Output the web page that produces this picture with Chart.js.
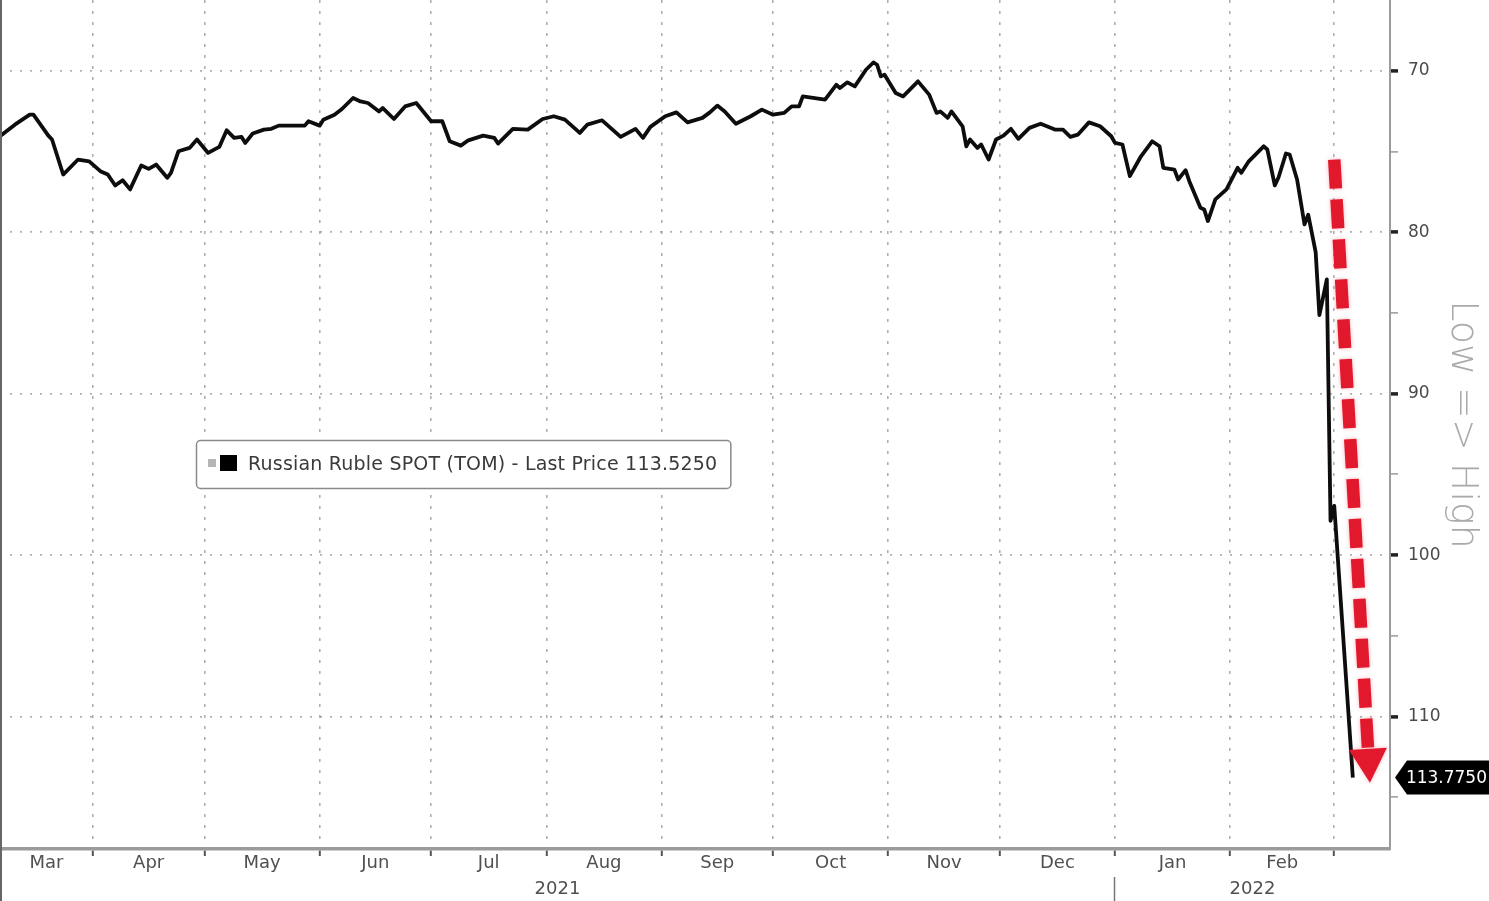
<!DOCTYPE html>
<html><head><meta charset="utf-8">
<script src="https://cdn.jsdelivr.net/npm/chart.js@4.4.1/dist/chart.umd.min.js"></script>
<style>html,body{margin:0;padding:0;background:#fff;overflow:hidden}#wrap{position:relative;width:1489px;height:901px}</style>
</head><body><div id="wrap"><canvas id="c"></canvas></div>
<script>
// ---------- data ----------
const seriesLabel = 'Russian Ruble SPOT (TOM) - Last Price 113.5250';
const lastPriceTag = '113.7750';
const startDate = '2021-03-01';            // day 0 of dayOffsets
const dayOffsets = [
  6,10,14,15,19,20,23,27,30,33,
  35,37,39,41,44,46,48,51,52,54,
  57,59,62,65,67,69,71,72,74,77,
  79,81,88,89,92,93,96,98,101,103,
  105,108,109,112,115,118,122,125,127,130,
  132,136,139,140,144,148,152,155,158,162,
  164,168,173,177,179,181,185,188,191,195,
  197,199,201,204,208,211,214,217,219,221,
  222,228,231,232,234,236,239,241,242,243,
  244,247,249,251,253,256,258,259,261,262,
  265,266,267,269,270,272,274,276,278,280,
  283,286,290,292,294,296,299,302,305,306,
  308,310,313,316,318,319,322,323,325,326,
  329,330,331,333,336,339,340,342,346,347,
  349,350,352,353,355,357,358,360,361,363,
  364,365,370
];
const rubPerUsd = [
  74.06,73.34,72.72,72.72,74.02,74.26,76.43,75.50,75.61,76.22,
  76.43,77.11,76.78,77.35,75.87,76.08,75.81,76.63,76.32,74.99,
  74.78,74.26,75.09,74.72,73.69,74.16,74.10,74.47,73.89,73.65,
  73.60,73.40,73.40,73.13,73.40,73.03,72.72,72.37,71.69,71.90,
  72.00,72.52,72.31,72.99,72.21,72.00,73.13,73.13,74.37,74.64,
  74.31,74.02,74.16,74.51,73.60,73.65,72.99,72.82,73.03,73.85,
  73.34,73.07,74.10,73.60,74.16,73.48,72.82,72.58,73.20,72.92,
  72.58,72.16,72.52,73.28,72.82,72.41,72.72,72.61,72.21,72.21,
  71.59,71.79,70.87,71.07,70.72,70.97,69.94,69.49,69.63,70.35,
  70.25,71.38,71.59,71.13,70.66,71.48,72.61,72.52,72.92,72.52,
  73.44,74.68,74.26,74.78,74.57,75.50,74.26,74.02,73.60,74.22,
  73.54,73.28,73.65,73.65,74.10,73.96,73.20,73.44,74.06,74.47,
  74.57,76.53,75.30,74.37,74.68,76.01,76.12,76.74,76.16,76.84,
  78.49,78.59,79.31,77.97,77.35,76.01,76.32,75.61,74.68,74.88,
  77.10,76.61,75.13,75.19,76.74,79.52,78.92,81.24,85.14,82.92,
  97.87,96.95,113.775
];
const monthStarts = ['2021-03-01','2021-04-01','2021-05-01','2021-06-01','2021-07-01','2021-08-01',
  '2021-09-01','2021-10-01','2021-11-01','2021-12-01','2022-01-01','2022-02-01','2022-03-01'];
const monthLabels = ['Mar','Apr','May','Jun','Jul','Aug','Sep','Oct','Nov','Dec','Jan','Feb'];
const yearLabels = ['2021','2022'];
const yearBreak = '2022-01-01';
const yTickValues = [70,75,80,85,90,95,100,105,110,115];
const yLabelStep = 10;
const axisTitle = 'Low => High';
// annotation arrow (data units: day offset, price)
const arrowFrom = {x: 365, y: 75.5};
const arrowTo = {x: 374.6, y: 114.1};

// ---------- helpers ----------
const DAY = 86400000;
const t0 = Date.parse(startDate + 'T00:00:00Z');
const dayOf = s => Math.round((Date.parse(s + 'T00:00:00Z') - t0) / DAY);
const X_MIN = 6, X_MAX = 380, Y_TOP = 65.62, Y_BOTTOM = 118.2;
const FONT = '"DejaVu Sans", Verdana, sans-serif';
const GRID = 'rgba(150,150,150,0.75)';

const monthTicks = [];
monthStarts.forEach(s => { const d = dayOf(s); if (d > X_MIN && d < X_MAX) monthTicks.push({value: d, kind: 'edge', name: ''}); });
monthLabels.forEach((lab, i) => {
  const a = Math.max(dayOf(monthStarts[i]), X_MIN), b = Math.min(dayOf(monthStarts[i + 1]), X_MAX);
  monthTicks.push({value: (a + b) / 2, kind: 'label', name: lab});
});
monthTicks.sort((p, q) => p.value - q.value);
const yb = dayOf(yearBreak);
const yearTicks = [
  {value: (X_MIN + yb) / 2, kind: 'label', name: yearLabels[0]},
  {value: yb, kind: 'edge', name: ''},
  {value: (yb + X_MAX) / 2, kind: 'label', name: yearLabels[1]}
];
const zeroPad = s => { s.paddingTop = 0; s.paddingBottom = 0; s.paddingLeft = 0; s.paddingRight = 0; };

const decor = {
  id: 'decor',
  beforeDraw(chart) {
    const c = chart.ctx; c.save(); c.fillStyle = '#fff'; c.fillRect(0, 0, chart.width, chart.height); c.restore();
  },
  afterDatasetsDraw(chart) {
    const c = chart.ctx, xs = chart.scales.x, ys = chart.scales.y;
    const x1 = xs.getPixelForValue(arrowFrom.x), y1 = ys.getPixelForValue(arrowFrom.y);
    const x2 = xs.getPixelForValue(arrowTo.x), y2 = ys.getPixelForValue(arrowTo.y);
    const len = Math.hypot(x2 - x1, y2 - y1), ux = (x2 - x1) / len, uy = (y2 - y1) / len;
    const headLen = 34, headHalf = 19;
    const bx = x2 - ux * headLen, by = y2 - uy * headLen;
    c.save();
    c.strokeStyle = '#e2192c'; c.fillStyle = '#e2192c';
    c.shadowColor = 'rgba(240,90,110,0.45)'; c.shadowBlur = 4;
    c.lineWidth = 12.5; c.lineCap = 'butt'; c.setLineDash([29, 11]);
    c.beginPath(); c.moveTo(x1, y1); c.lineTo(bx + ux * 2, by + uy * 2); c.stroke();
    c.setLineDash([]);
    c.beginPath(); c.moveTo(x2, y2);
    c.lineTo(bx - uy * headHalf, by + ux * headHalf);
    c.lineTo(bx + uy * headHalf, by - ux * headHalf);
    c.closePath(); c.fill();
    c.restore();
  },
  afterDraw(chart) {
    const c = chart.ctx, ys = chart.scales.y, area = chart.chartArea;
    c.save();
    // left frame
    c.strokeStyle = '#666'; c.lineWidth = 2;
    c.beginPath(); c.moveTo(1, 0); c.lineTo(1, chart.height); c.stroke();
    // legend box
    const lb = {x: 196, y: 440, h: 48};
    c.font = '19px ' + FONT;
    try { c.letterSpacing = '0.2px'; } catch (e) {}
    const label = chart.data.datasets[0].label;
    const tw = c.measureText(label).width;
    const w = 52 + tw + 13;
    c.fillStyle = '#fff'; c.strokeStyle = '#8a8a8a'; c.lineWidth = 1.5;
    c.beginPath(); c.roundRect(lb.x + 0.5, lb.y + 0.5, w, lb.h, 4); c.fill(); c.stroke();
    c.fillStyle = '#b5b5b5'; c.fillRect(lb.x + 12, lb.y + 19, 8, 8);
    c.fillStyle = '#000'; c.fillRect(lb.x + 24, lb.y + 15, 17, 16);
    c.fillStyle = '#3a3a3a'; c.textBaseline = 'middle'; c.textAlign = 'left';
    c.fillText(label, lb.x + 52, lb.y + lb.h / 2 + 1);
    try { c.letterSpacing = '0px'; } catch (e) {}
    // last price tag
    const ds = chart.data.datasets[0].data;
    const ty = ys.getPixelForValue(ds[ds.length - 1].y);
    const tx = area.right + 5, th = 34;
    c.fillStyle = '#000';
    c.beginPath();
    c.moveTo(tx, ty); c.lineTo(tx + 12, ty - th / 2); c.lineTo(chart.width, ty - th / 2);
    c.lineTo(chart.width, ty + th / 2); c.lineTo(tx + 12, ty + th / 2); c.closePath(); c.fill();
    c.fillStyle = '#fff'; c.font = '17px ' + FONT; c.textAlign = 'right';
    c.fillText(lastPriceTag, chart.width - 2, ty + 1);
    c.restore();
  }
};

new Chart(document.getElementById('c'), {
  type: 'line',
  data: {
    datasets: [{
      label: seriesLabel,
      data: dayOffsets.map((d, i) => ({x: d, y: rubPerUsd[i]})),
      borderColor: '#0d0d0d', borderWidth: 3.8, pointRadius: 0, tension: 0,
      borderJoinStyle: 'round', fill: false
    }]
  },
  options: {
    responsive: true, maintainAspectRatio: false, animation: false,
    layout: {padding: 0},
    plugins: {legend: {display: false}, tooltip: {enabled: false}, title: {display: false}},
    scales: {
      x: {
        type: 'linear', position: 'bottom', min: X_MIN, max: X_MAX, weight: 0,
        afterBuildTicks: s => { s.ticks = monthTicks.map(t => ({value: t.value, kind: t.kind, name: t.name})); },
        afterFit: s => { s.height = 28; zeroPad(s); },
        grid: {
          color: ctx => (ctx.tick && ctx.tick.kind === 'edge') ? GRID : 'rgba(0,0,0,0)',
          tickColor: ctx => (ctx.tick && ctx.tick.kind === 'edge') ? '#555' : 'rgba(0,0,0,0)',
          lineWidth: 1.6, tickWidth: 2, tickLength: 7
        },
        border: {display: true, color: '#9b9b9b', width: 3.5, dash: [3, 8]},
        ticks: {
          autoSkip: false, maxRotation: 0, minRotation: 0, padding: -3,
          color: '#505050', font: {family: FONT, size: 18},
          callback: (v, i, ticks) => ticks[i].name
        }
      },
      xYear: {
        type: 'linear', position: 'bottom', min: X_MIN, max: X_MAX, weight: 1,
        afterBuildTicks: s => { s.ticks = yearTicks.map(t => ({value: t.value, kind: t.kind, name: t.name})); },
        afterFit: s => { s.height = 24; zeroPad(s); },
        grid: {
          drawOnChartArea: false, drawTicks: true, tickLength: 24,
          tickColor: ctx => (ctx.tick && ctx.tick.kind === 'edge') ? '#777' : 'rgba(0,0,0,0)',
          tickWidth: 1.5
        },
        border: {display: false},
        ticks: {
          autoSkip: false, maxRotation: 0, minRotation: 0, padding: -22,
          color: '#505050', font: {family: FONT, size: 18},
          callback: (v, i, ticks) => ticks[i].name
        }
      },
      y: {
        type: 'linear', position: 'right', reverse: true, min: Y_TOP, max: Y_BOTTOM,
        afterBuildTicks: s => { s.ticks = yTickValues.map(v => ({value: v})); },
        afterFit: s => { s.width = 99; zeroPad(s); },
        grid: {
          color: ctx => (ctx.tick && ctx.tick.value % yLabelStep === 0) ? GRID : 'rgba(0,0,0,0)',
          tickColor: ctx => (ctx.tick && ctx.tick.value % yLabelStep === 0) ? '#222' : '#999',
          tickWidth: ctx => (ctx.tick && ctx.tick.value % yLabelStep === 0) ? 3.5 : 1.5,
          lineWidth: 1.8, tickLength: 8
        },
        border: {display: true, color: '#9b9b9b', width: 2, dash: [2, 8]},
        ticks: {
          padding: 10, color: '#4a4a4a', font: {family: FONT, size: 17},
          callback: v => (v % yLabelStep === 0 ? String(v) : '')
        },
        title: {
          display: true, text: axisTitle, color: '#aaaaaa',
          font: {family: FONT, size: 38, weight: 300}, padding: {top: 4, bottom: 0}
        }
      }
    }
  },
  plugins: [decor]
});
</script>
</body></html>
